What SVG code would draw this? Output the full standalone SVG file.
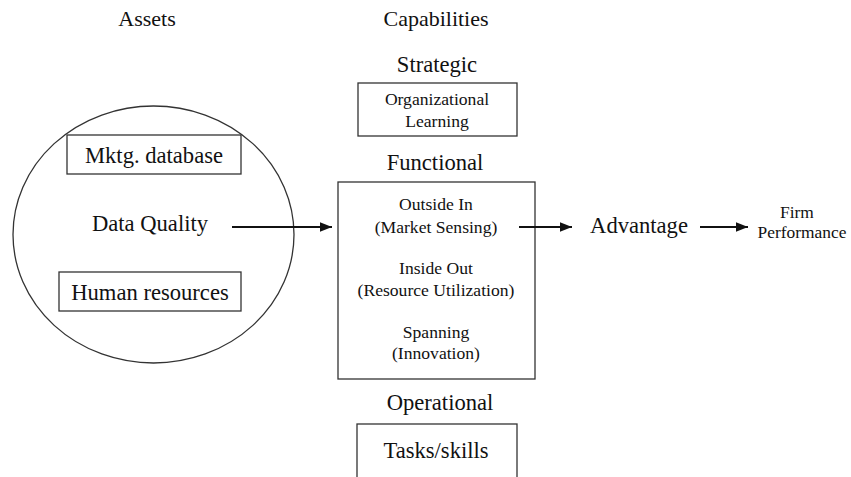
<svg xmlns="http://www.w3.org/2000/svg" width="851" height="477" viewBox="0 0 851 477" font-family="'Liberation Serif', 'DejaVu Serif', serif">
  <style>
    text { font-family: "Liberation Serif", "DejaVu Serif", serif; fill: #111; text-anchor: middle; }
    .box { fill: #fff; stroke: #333; stroke-width: 1.3; }
    .line { stroke: #111; stroke-width: 2; fill: none; marker-end: url(#arrow); }
    .h { font-size: 22px; }
    .lg { font-size: 22.6px; }
    .md { font-size: 17.6px; }
    .sm { font-size: 17.4px; }
  </style>
  <defs>
    <marker id="arrow" viewBox="0 0 10 10" refX="10" refY="5" markerWidth="6" markerHeight="6" orient="auto" markerUnits="strokeWidth">
      <path d="M0,1 L10,5 L0,9 z" fill="#111"/>
    </marker>
  </defs>

  <rect width="851" height="477" fill="#fff"/>

  <!-- column headings -->
  <text class="h" x="147" y="26">Assets</text>
  <text class="h" x="436" y="26">Capabilities</text>

  <!-- assets ellipse -->
  <g id="assets">
    <ellipse cx="153.5" cy="234.5" rx="140.5" ry="128.5" fill="#fff" stroke="#333" stroke-width="1.3"/>
    <g id="mktg-database">
      <rect class="box" x="67" y="135" width="174" height="39"/>
      <text class="lg" x="154" y="163">Mktg. database</text>
    </g>
    <g id="data-quality">
      <text class="lg" x="150" y="231">Data Quality</text>
    </g>
    <g id="human-resources">
      <rect class="box" x="59" y="272" width="182" height="39"/>
      <text class="lg" x="150" y="300">Human resources</text>
    </g>
  </g>

  <!-- strategic capability -->
  <g id="strategic">
    <text class="lg" x="437" y="72">Strategic</text>
    <rect class="box" x="358" y="83" width="159" height="53"/>
    <text class="md" x="437" y="105">Organizational</text>
    <text class="md" x="437" y="127">Learning</text>
  </g>

  <!-- functional capabilities -->
  <g id="functional">
    <text class="lg" x="435" y="170">Functional</text>
    <rect class="box" x="338" y="182" width="197" height="197"/>
    <text class="md" x="436" y="210">Outside In</text>
    <text class="md" x="436" y="233">(Market Sensing)</text>
    <text class="md" x="436" y="274">Inside Out</text>
    <text class="md" x="436" y="296">(Resource Utilization)</text>
    <text class="md" x="436" y="338">Spanning</text>
    <text class="md" x="436" y="359">(Innovation)</text>
  </g>

  <!-- operational capability -->
  <g id="operational">
    <text class="lg" x="440" y="410">Operational</text>
    <rect class="box" x="357" y="424" width="160" height="60"/>
    <text class="lg" x="436" y="458">Tasks/skills</text>
  </g>

  <g id="advantage">
    <text class="lg" x="639" y="233">Advantage</text>
  </g>

  <g id="firm-performance">
    <text class="sm" x="797" y="218">Firm</text>
    <text class="sm" x="802" y="238">Performance</text>
  </g>

  <!-- connectors -->
  <g id="connectors">
    <line class="line" x1="232" y1="227" x2="332" y2="227"/>
    <line class="line" x1="519" y1="227" x2="572" y2="227"/>
    <line class="line" x1="700" y1="227" x2="748" y2="227"/>
  </g>
</svg>
